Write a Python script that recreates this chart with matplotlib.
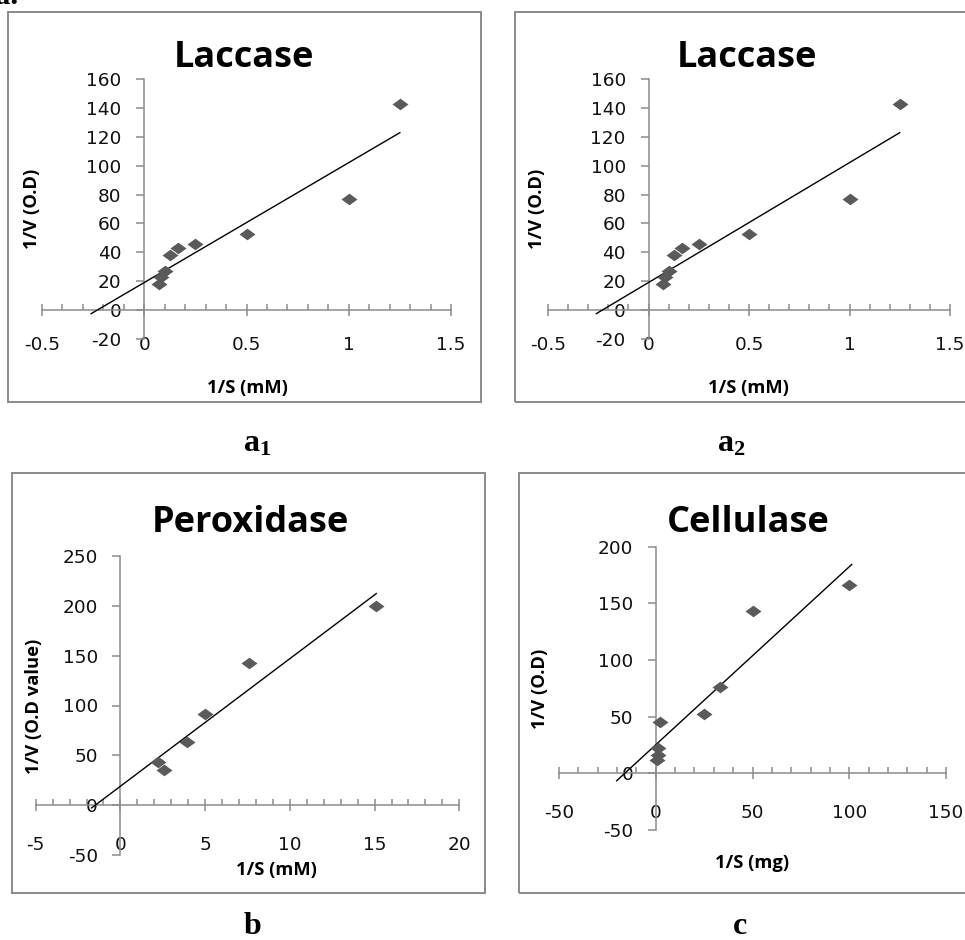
import numpy as np
import matplotlib
matplotlib.use("Agg")
import matplotlib.pyplot as plt
from matplotlib.ticker import MultipleLocator, FuncFormatter
from matplotlib.patches import Rectangle

W, H = 965, 940

# Laccase, 1/S (mM) vs 1/V (O.D); panels a1 and a2 show the same readings
lac_x = [0.071, 0.083, 0.1, 0.125, 0.167, 0.25, 0.5, 1.0, 1.25]
lac_y = [18, 23, 27, 38, 43, 46, 53, 77, 143]
lac_fit = (83.0, 19.1)          # slope, intercept of the trendline
lac_fit_x = (-0.26, 1.25)

# Peroxidase
per_x = [2.2, 2.6, 3.9, 5.0, 7.6, 15.1]
per_y = [43, 35, 63, 91, 143, 200]
per_fit = (12.8, 19.0)
per_fit_x = (-1.7, 15.1)

# Cellulase, 1/S (mg)
cel_x = [0.4, 1.0, 1.4, 2.2, 25, 33.3, 50, 100]
cel_y = [12, 16, 22, 45, 52, 76, 143, 166]
cel_fit = (1.571, 25.2)
cel_fit_x = (-20.2, 101.3)

AXC = "#8c8c8c"
MK = "#5a5a5a"
TICKFONT = ["DejaVu Sans"]
LABFONT = ["Open Sans", "DejaVu Sans"]
SERIF = ["Liberation Serif", "DejaVu Serif"]
TICKSIZE = 13.3
LABSIZE = 13.2

plt.rcParams["mathtext.fontset"] = "custom"
plt.rcParams["mathtext.rm"] = "Liberation Serif:bold"
plt.rcParams["mathtext.it"] = "Liberation Serif:bold"

fig = plt.figure(figsize=(W / 100, H / 100), dpi=100)

# slightly wide diamond like the Excel marker
rhombus = [(-1, 0), (0, 0.73), (1, 0), (0, -0.73), (-1, 0)]


def fx(px):
    return px / W


def fy(py):
    return 1 - py / H


def add_panel(box, xlim, ylim):
    # box in pixels: left, right, top, bottom of the data area
    l, r, t, b = box
    ax = fig.add_axes([fx(l), fy(b), (r - l) / W, (b - t) / H])
    ax.set_xlim(xlim)
    ax.set_ylim(ylim)
    return ax


def style(ax, xmaj, xmin, ymaj, xpad):
    ax.patch.set_alpha(0)
    for s in ["top", "right"]:
        ax.spines[s].set_visible(False)
    for s in ["left", "bottom"]:
        ax.spines[s].set_position(("data", 0))
        ax.spines[s].set_color(AXC)
        ax.spines[s].set_linewidth(1.1)
    ax.xaxis.set_major_locator(MultipleLocator(xmaj))
    ax.xaxis.set_minor_locator(MultipleLocator(xmin))
    ax.yaxis.set_major_locator(MultipleLocator(ymaj))
    fmt = FuncFormatter(lambda v, p: f"{v + 0:g}")
    ax.xaxis.set_major_formatter(fmt)
    ax.yaxis.set_major_formatter(fmt)
    ax.tick_params(axis="x", which="major", direction="inout", length=8.6,
                   width=1.1, color=AXC, pad=xpad, labelsize=TICKSIZE, labelcolor="#111111")
    ax.tick_params(axis="x", which="minor", direction="in", length=4.3,
                   width=1.1, color=AXC)
    ax.tick_params(axis="y", which="major", direction="out", length=5.8,
                   width=1.1, color=AXC, pad=10.5, labelsize=TICKSIZE, labelcolor="#111111")
    for lab in ax.get_xticklabels() + ax.get_yticklabels():
        lab.set_fontfamily(TICKFONT)


def draw(ax, xs, ys, fit, fit_x):
    xs = np.asarray(xs, dtype=float)
    ys = np.asarray(ys, dtype=float)
    lx = np.array(fit_x)
    ax.plot(lx, fit[0] * lx + fit[1], color="black", lw=1.0, zorder=3)
    ax.plot(xs, ys, linestyle="none", marker=rhombus, markersize=11.5,
            color=MK, markeredgewidth=0, zorder=4, clip_on=False)


def frame(l, r, t, b):
    fig.add_artist(Rectangle((fx(l), fy(b)), (r - l) / W, (b - t) / H,
                             transform=fig.transFigure, fill=False,
                             ec="#8a8a8a", lw=1.4))


def label(px, py, s, size, **kw):
    fig.text(fx(px), fy(py), s, fontsize=size, **kw)


# frames around each chart
frame(8, 481, 12, 402)
frame(515, 990, 12, 402)
frame(12, 485, 473, 893)
frame(519, 990, 473, 893)

# a1
ax = add_panel((42, 451, 79, 339), (-0.5, 1.5), (-20, 160))
style(ax, 0.5, 0.1, 20, 14.5)
draw(ax, lac_x, lac_y, lac_fit, lac_fit_x)
label(244, 67, "Laccase", 26, ha="center", va="baseline", weight="bold", family=LABFONT)
label(247, 393, "1/S (mM)", LABSIZE, ha="center", va="baseline", weight="bold", family=LABFONT)
label(32, 209, "1/V (O.D)", LABSIZE, ha="center", va="center", rotation=90, weight="bold", family=LABFONT)

# a2
ax = add_panel((548, 950, 79, 339), (-0.5, 1.5), (-20, 160))
style(ax, 0.5, 0.1, 20, 14.5)
draw(ax, lac_x, lac_y, lac_fit, lac_fit_x)
label(747, 67, "Laccase", 26, ha="center", va="baseline", weight="bold", family=LABFONT)
label(748, 393, "1/S (mM)", LABSIZE, ha="center", va="baseline", weight="bold", family=LABFONT)
label(537, 209, "1/V (O.D)", LABSIZE, ha="center", va="center", rotation=90, weight="bold", family=LABFONT)

# b
ax = add_panel((35.7, 459.3, 556, 855), (-5, 20), (-50, 250))
style(ax, 5, 1, 50, 18.0)
draw(ax, per_x, per_y, per_fit, per_fit_x)
label(250, 532, "Peroxidase", 26, ha="center", va="baseline", weight="bold", family=LABFONT)
label(276, 875, "1/S (mM)", LABSIZE, ha="center", va="baseline", weight="bold", family=LABFONT)
label(34, 706, "1/V (O.D value)", LABSIZE, ha="center", va="center", rotation=90, weight="bold", family=LABFONT)

# c
ax = add_panel((559, 946, 546.7, 830), (-50, 150), (-50, 200))
style(ax, 50, 10, 50, 17.8)
draw(ax, cel_x, cel_y, cel_fit, cel_fit_x)
label(748, 532, "Cellulase", 26, ha="center", va="baseline", weight="bold", family=LABFONT)
label(752, 868, "1/S (mg)", LABSIZE, ha="center", va="baseline", weight="bold", family=LABFONT)
label(540, 689, "1/V (O.D)", LABSIZE, ha="center", va="center", rotation=90, weight="bold", family=LABFONT)

# panel letters under each chart
label(18, 4, "a.", 22, ha="right", va="baseline", weight="bold", family=SERIF)
label(257, 452, "a$_1$", 23, ha="center", va="baseline", weight="bold", family=SERIF)
label(731, 452, "a$_2$", 23, ha="center", va="baseline", weight="bold", family=SERIF)
label(252, 934, "b", 23, ha="center", va="baseline", weight="bold", family=SERIF)
label(740, 934, "c", 23, ha="center", va="baseline", weight="bold", family=SERIF)

fig.savefig("out.png", dpi=100)
